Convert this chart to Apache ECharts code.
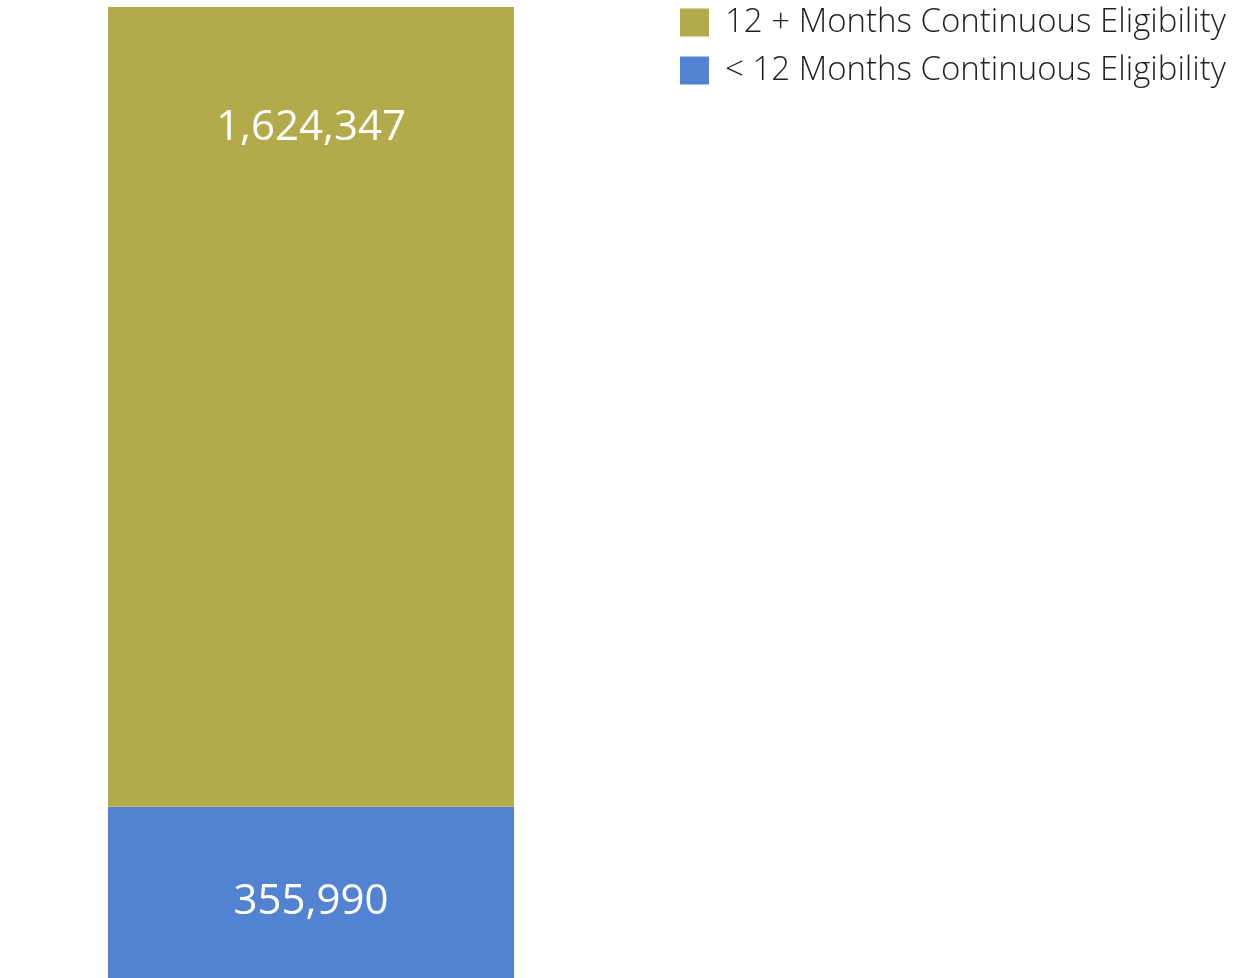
<!DOCTYPE html>
<html>
<head>
<meta charset="utf-8">
<script src="https://cdn.jsdelivr.net/npm/echarts@6/dist/echarts.min.js"></script>
<style>
  html, body { margin: 0; padding: 0; background: #fff; overflow: hidden; }
  #chart { width: 1236px; height: 982px; }
</style>
</head>
<body>
<div id="chart"></div>
<script>
const categories = ['Members']
const seriesNames = ['< 12 Months Continuous Eligibility', '12 + Months Continuous Eligibility']
const lessThan12Values = [355990]
const twelvePlusValues = [1624347]
const legendOrder = ['12 + Months Continuous Eligibility', '< 12 Months Continuous Eligibility']

const total = lessThan12Values[0] + twelvePlusValues[0]
const fmt = (v) => v.toLocaleString('en-US')
const fontFamily = '"Open Sans", "Noto Sans", sans-serif'

const chart = echarts.init(document.getElementById('chart'))

chart.setOption({
  animation: false,
  grid: {
    left: 108,
    width: 406,
    top: 7,
    bottom: 0
  },
  legend: {
    orient: 'vertical',
    left: 680,
    top: 6,
    padding: 0,
    itemWidth: 29,
    itemHeight: 28,
    itemGap: 15,
    icon: 'rect',
    data: legendOrder,
    textStyle: {
      fontFamily,
      fontSize: 33,
      fontWeight: 300,
      color: '#231f20',
      padding: [0, 0, 0, 11]
    }
  },
  xAxis: {
    type: 'category',
    data: categories,
    show: false
  },
  yAxis: {
    type: 'value',
    min: 0,
    max: total,
    show: false
  },
  series: [
    {
      name: seriesNames[0],
      type: 'bar',
      stack: 'total',
      barWidth: '100%',
      data: lessThan12Values,
      itemStyle: { color: '#5283d2' },
      label: {
        show: true,
        position: 'inside',
        offset: [0, 8],
        formatter: (p) => fmt(p.value),
        color: '#fff',
        fontFamily,
        fontSize: 42
      }
    },
    {
      name: seriesNames[1],
      type: 'bar',
      stack: 'total',
      barWidth: '100%',
      data: twelvePlusValues,
      itemStyle: { color: '#b3aa4b' },
      label: {
        show: true,
        position: 'insideTop',
        distance: 100,
        formatter: (p) => fmt(p.value),
        color: '#fff',
        fontFamily,
        fontSize: 42
      }
    }
  ]
})
</script>
</body>
</html>
